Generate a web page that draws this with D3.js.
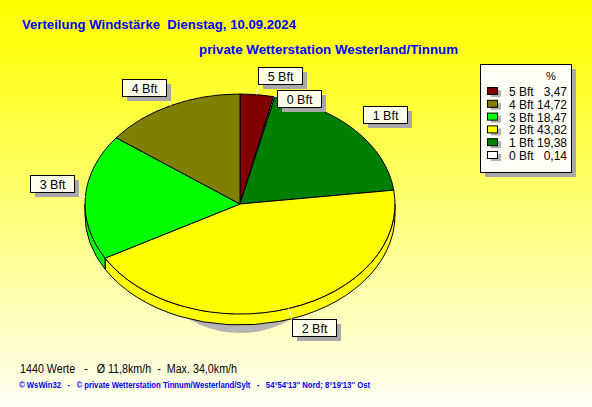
<!DOCTYPE html>
<html><head><meta charset="utf-8">
<script src="https://cdn.jsdelivr.net/npm/d3@7"></script>
<style>html,body{margin:0;padding:0;overflow:hidden;background:#fff}</style>
</head><body>
<svg id="c" width="592" height="407"></svg>
<script>
// ---- data ----
const categories = ["0 Bft", "1 Bft", "2 Bft", "3 Bft", "4 Bft", "5 Bft"];
const percentages = [0.14, 19.38, 43.82, 18.47, 14.72, 3.47];
const sliceColors = ["#ffffff", "#008000", "#ffff00", "#00ff00", "#808000", "#800000"];
const pieOrder = ["5 Bft", "0 Bft", "1 Bft", "2 Bft", "3 Bft", "4 Bft"];
const legendOrder = ["5 Bft", "4 Bft", "3 Bft", "2 Bft", "1 Bft", "0 Bft"];
const titleText = "Verteilung Windstärke  Dienstag, 10.09.2024";
const subtitleText = "private Wetterstation Westerland/Tinnum";
const footerText = "1440 Werte   -   Ø 11,8km/h  -  Max. 34,0km/h";
const creditText = "© WsWin32   -   © private Wetterstation Tinnum/Westerland/Sylt   -   54°54'13'' Nord; 8°19'13'' Ost";

const W = 592, H = 407;
const svg = d3.select("#c");
const defs = svg.append("defs");
const grad = defs.append("linearGradient").attr("id", "bg").attr("x1", 0).attr("y1", 0).attr("x2", 0).attr("y2", 1);
grad.append("stop").attr("offset", "0%").attr("stop-color", "#ffff00");
grad.append("stop").attr("offset", "10%").attr("stop-color", "#ffff10");
grad.append("stop").attr("offset", "100%").attr("stop-color", "#fffff4");
svg.append("rect").attr("width", W).attr("height", H).attr("fill", "url(#bg)");

const FONT = "'Liberation Sans', Arial, sans-serif";
const color = d3.scaleOrdinal().domain(categories).range(sliceColors);
const valueOf = new Map(categories.map((c, i) => [c, percentages[i]]));

// titles
svg.append("text").attr("x", 22).attr("y", 29).text(titleText).style("white-space", "pre")
  .attr("font-family", FONT).attr("font-weight", "bold").attr("font-size", 12.5)
  .attr("fill", "#0000ff").attr("textLength", 274).attr("lengthAdjust", "spacingAndGlyphs");
svg.append("text").attr("x", 199).attr("y", 54).text(subtitleText).style("white-space", "pre")
  .attr("font-family", FONT).attr("font-weight", "bold").attr("font-size", 12.5)
  .attr("fill", "#0000ff").attr("textLength", 259).attr("lengthAdjust", "spacingAndGlyphs");

// ---- pie geometry ----
const cx = 240, cy = 204, rx = 155, ry = 110, depth = 11;
const pt = (a, ox = 0, oy = 0, dy = 0) => [cx + (rx + ox) * Math.sin(a), cy - (ry + oy) * Math.cos(a) + dy];

const pieData = d3.pie().sort(null).value(d => valueOf.get(d))(pieOrder);

// shadow
svg.append("ellipse").attr("cx", cx).attr("cy", cy + 19).attr("rx", 105).attr("ry", ry).attr("fill", "#b4b4b4");

// sides (front half only: angles PI/2 .. 3PI/2)
const sideG = svg.append("g");
pieData.forEach(d => {
  const s = Math.max(d.startAngle, Math.PI / 2), e = Math.min(d.endAngle, 3 * Math.PI / 2);
  if (e <= s) return;
  const p1 = pt(s), p2 = pt(e), p3 = pt(e, 0, 0, depth), p4 = pt(s, 0, 0, depth);
  const large = (e - s) > Math.PI ? 1 : 0;
  const path = `M${p1}A${rx},${ry} 0 ${large} 1 ${p2}L${p3}A${rx},${ry} 0 ${large} 0 ${p4}Z`;
  sideG.append("path").attr("d", path).attr("fill", color(d.data))
    .attr("stroke", "#000").attr("stroke-width", 1).attr("stroke-linejoin", "round");
});

// top faces
const topG = svg.append("g");
pieData.forEach(d => {
  const p1 = pt(d.startAngle), p2 = pt(d.endAngle);
  const large = (d.endAngle - d.startAngle) > Math.PI ? 1 : 0;
  const path = `M${cx},${cy}L${p1}A${rx},${ry} 0 ${large} 1 ${p2}Z`;
  topG.append("path").attr("d", path).attr("fill", color(d.data))
    .attr("stroke", "#000").attr("stroke-width", 1).attr("stroke-linejoin", "round");
});

// ---- slice labels ----
const labG = svg.append("g");
const boxH = 17, off = 11;
const placed = [];
pieData.forEach(d => {
  const a = (d.startAngle + d.endAngle) / 2;
  const anchor = pt(a);
  const e = pt(a, off, off);
  const t = labG.append("text").text(d.data).attr("font-family", FONT).attr("font-size", 12.5).attr("fill", "#000");
  const tw = t.node().getComputedTextLength();
  const bw = Math.round(tw + 18);
  let x0 = Math.sin(a) >= 0 ? e[0] : e[0] - bw;
  let y0 = Math.cos(a) >= 0 ? e[1] - boxH : e[1];
  if (Math.abs(Math.cos(a)) < 0.15) y0 -= 4;
  x0 = Math.round(x0); y0 = Math.round(y0);
  placed.forEach(p => {
    if (x0 < p.x + p.w + 5 && x0 + bw + 5 > p.x && y0 < p.y + p.h + 5 && y0 + boxH + 5 > p.y) {
      y0 = p.y + p.h + 6;
    }
  });
  placed.push({x: x0, y: y0, w: bw, h: boxH});
  const nx = Math.max(x0, Math.min(anchor[0], x0 + bw));
  const ny = Math.max(y0, Math.min(anchor[1], y0 + boxH));
  labG.insert("line", "text").attr("x1", anchor[0]).attr("y1", anchor[1]).attr("x2", nx).attr("y2", ny)
    .attr("stroke", "#fff").attr("stroke-width", 1);
  labG.insert("rect", "text").attr("x", x0 + 5).attr("y", y0 + 5).attr("width", bw).attr("height", boxH).attr("fill", "#a8a8a8");
  labG.insert("rect", "text").attr("x", x0 + 0.5).attr("y", y0 + 0.5).attr("width", bw).attr("height", boxH)
    .attr("fill", "#ffffec").attr("stroke", "#000").attr("stroke-width", 1);
  t.attr("x", x0 + 0.5 + bw / 2).attr("y", y0 + boxH - 3.5).attr("text-anchor", "middle");
  labG.node().appendChild(t.node());
});

// ---- legend ----
const lg = svg.append("g");
const lx = 480, ly = 64, lw = 91, lh = 108;
lg.append("rect").attr("x", lx + 5).attr("y", ly + 5).attr("width", lw).attr("height", lh).attr("fill", "#a8a8a8");
lg.append("rect").attr("x", lx + 0.5).attr("y", ly + 0.5).attr("width", lw).attr("height", lh)
  .attr("fill", "#fffff8").attr("stroke", "#000");
lg.append("text").attr("x", 551).attr("y", 80).attr("text-anchor", "middle").text("%")
  .attr("font-family", FONT).attr("font-size", 11).attr("fill", "#000");
const rowY = d3.scalePoint().domain(legendOrder).range([92, 156]);
legendOrder.forEach(c => {
  const y = rowY(c);
  lg.append("rect").attr("x", 491).attr("y", y - 2).attr("width", 10).attr("height", 7).attr("fill", "#b0b0b0");
  lg.append("rect").attr("x", 487.5).attr("y", y - 4.5).attr("width", 10).attr("height", 7)
    .attr("fill", color(c)).attr("stroke", "#000");
  lg.append("text").attr("x", 509).attr("y", y + 4).text(c)
    .attr("font-family", FONT).attr("font-size", 12).attr("fill", "#000");
  lg.append("text").attr("x", 567).attr("y", y + 4).attr("text-anchor", "end")
    .text(d3.format(".2f")(valueOf.get(c)).replace(".", ","))
    .attr("font-family", FONT).attr("font-size", 12).attr("fill", "#000");
});

// ---- footer ----
svg.append("text").attr("x", 20).attr("y", 373).text(footerText)
  .style("white-space", "pre")
  .attr("font-family", FONT).attr("font-size", 12).attr("fill", "#000")
  .attr("textLength", 217).attr("lengthAdjust", "spacingAndGlyphs");
svg.append("text").attr("x", 19).attr("y", 388).text(creditText)
  .style("white-space", "pre")
  .attr("font-family", FONT).attr("font-size", 8.5).attr("font-weight", "bold").attr("fill", "#0000ff")
  .attr("textLength", 351).attr("lengthAdjust", "spacingAndGlyphs");
</script>
</body></html>
